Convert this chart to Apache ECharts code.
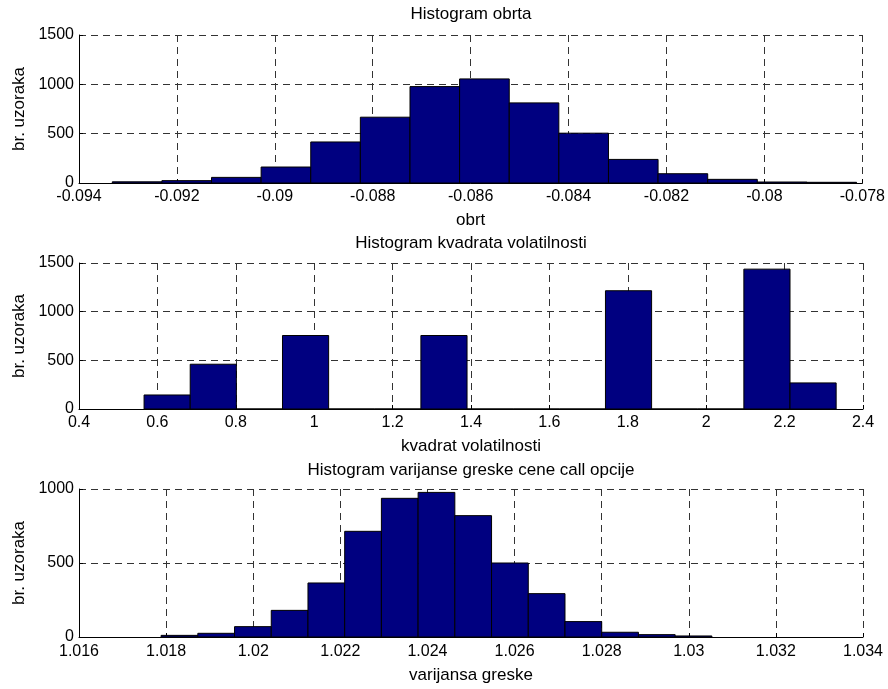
<!DOCTYPE html>
<html>
<head>
<meta charset="utf-8">
<script src="https://cdn.jsdelivr.net/npm/echarts@6/dist/echarts.min.js"></script>
<style>
html, body { margin: 0; padding: 0; background: #fff; }
#chart { width: 888px; height: 689px; }
</style>
</head>
<body>
<div id="chart"></div>
<script>
// bin edges and counts (15 bins each)
const obrtEdges = [-0.09332, -0.092307, -0.091293, -0.09028, -0.089266, -0.088253, -0.087239, -0.086226,
    -0.085212, -0.084199, -0.083185, -0.082172, -0.081158, -0.080145, -0.079131, -0.078118];
const obrtCounts = [12, 24, 57, 162, 416, 667, 977, 1055, 812, 505, 239, 94, 37, 10, 7];

const volEdges = [0.566, 0.6837, 0.8014, 0.9191, 1.0368, 1.1545, 1.2722, 1.3899,
    1.5076, 1.6253, 1.743, 1.8607, 1.9784, 2.0961, 2.2138, 2.3315];
const volCounts = [144, 460, 0, 755, 0, 0, 755, 0, 0, 0, 1215, 0, 0, 1437, 268];

const varEdges = [1.017885, 1.018728, 1.019571, 1.020414, 1.021257, 1.0221, 1.022943, 1.023786,
    1.024629, 1.025472, 1.026315, 1.027158, 1.028001, 1.028844, 1.029687, 1.03053];
const varCounts = [11, 25, 70, 180, 365, 714, 937, 977, 820, 500, 293, 104, 32, 16, 7];

const titles = ['Histogram obrta', 'Histogram kvadrata volatilnosti', 'Histogram varijanse greske cene call opcije'];
const xNames = ['obrt', 'kvadrat volatilnosti', 'varijansa greske'];
const yName = 'br. uzoraka';

const font = "'Liberation Sans', Arial, sans-serif";
const gridTops = [35, 263, 489];
const gridHeights = [148, 146, 148];
const titleTops = [6, 235, 462];
const labelMargins = [6, 6, 7];
const nameGaps = [29, 29, 30];

function toBins(edges, counts) {
    return counts.map((c, i) => [edges[i], edges[i + 1], c]);
}

function renderBar(params, api) {
    const p0 = api.coord([api.value(0), 0]);
    const p1 = api.coord([api.value(1), api.value(2)]);
    return {
        type: 'rect',
        shape: { x: p0[0], y: p1[1], width: p1[0] - p0[0], height: p0[1] - p1[1] },
        style: { fill: '#000080', stroke: '#000', lineWidth: 1 }
    };
}

function fmt(v) {
    return String(parseFloat(v.toFixed(4)));
}

const dashed = { show: true, lineStyle: { color: '#333', type: [7, 5], width: 1 } };

function xAxis(i, min, max, interval) {
    return {
        type: 'value', gridIndex: i, min: min, max: max, interval: interval,
        name: xNames[i], nameLocation: 'middle', nameGap: nameGaps[i],
        nameTextStyle: { color: '#000', fontSize: 17, fontFamily: font },
        axisLine: { show: true, onZero: false, lineStyle: { color: '#000' } },
        axisTick: { show: true, inside: true, length: 4, lineStyle: { color: '#000' } },
        axisLabel: { color: '#000', fontSize: 16, fontFamily: font, margin: labelMargins[i], formatter: fmt },
        splitLine: dashed
    };
}

function yAxis(i, max) {
    return {
        type: 'value', gridIndex: i, min: 0, max: max, interval: 500,
        name: yName, nameLocation: 'middle', nameGap: 51,
        nameTextStyle: { color: '#000', fontSize: 17, fontFamily: font },
        axisLine: { show: true, lineStyle: { color: '#000' } },
        axisTick: { show: true, inside: true, length: 4, lineStyle: { color: '#000' } },
        axisLabel: { color: '#000', fontSize: 16, fontFamily: font, margin: 5, formatter: v => String(v) },
        splitLine: dashed
    };
}

const chart = echarts.init(document.getElementById('chart'), null, { renderer: 'canvas' });

const option = {
    backgroundColor: '#fff',
    animation: false,
    title: titles.map((t, i) => ({
        text: t, left: 471, top: titleTops[i], textAlign: 'center', padding: 0,
        textStyle: { color: '#000', fontSize: 17, fontWeight: 'normal', fontFamily: font }
    })),
    grid: gridTops.map((t, i) => ({ left: 79, right: 25, top: t, height: gridHeights[i] })),
    xAxis: [
        xAxis(0, -0.094, -0.078, 0.002),
        xAxis(1, 0.4, 2.4, 0.2),
        xAxis(2, 1.016, 1.034, 0.002)
    ],
    yAxis: [yAxis(0, 1500), yAxis(1, 1500), yAxis(2, 1000)],
    series: [
        { type: 'custom', xAxisIndex: 0, yAxisIndex: 0, renderItem: renderBar, data: toBins(obrtEdges, obrtCounts) },
        { type: 'custom', xAxisIndex: 1, yAxisIndex: 1, renderItem: renderBar, data: toBins(volEdges, volCounts) },
        { type: 'custom', xAxisIndex: 2, yAxisIndex: 2, renderItem: renderBar, data: toBins(varEdges, varCounts) }
    ]
};

chart.setOption(option);
</script>
</body>
</html>
